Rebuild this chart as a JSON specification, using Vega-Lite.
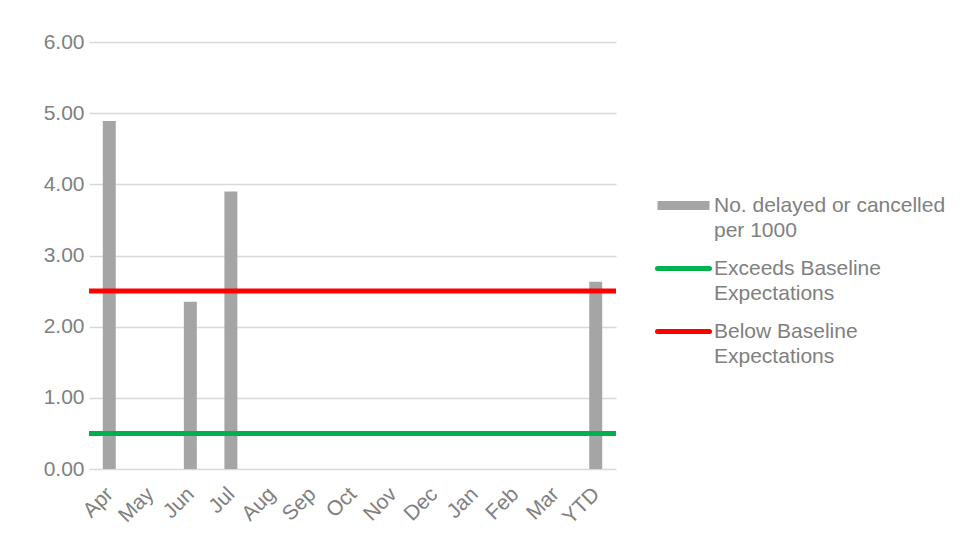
{
  "$schema": "https://vega.github.io/schema/vega-lite/v6.json",
  "width": 527,
  "height": 427,
  "autosize": {"type": "none"},
  "padding": {"left": 89, "top": 42, "right": 348, "bottom": 70},
  "background": "white",
  "config": {"view": {"stroke": null}, "font": "Liberation Sans"},
  "datasets": {
    "monthly": [
      {"month": "Apr", "value": 4.89, "series": "No. delayed or cancelled per 1000"},
      {"month": "May", "value": null, "series": "No. delayed or cancelled per 1000"},
      {"month": "Jun", "value": 2.35, "series": "No. delayed or cancelled per 1000"},
      {"month": "Jul", "value": 3.9, "series": "No. delayed or cancelled per 1000"},
      {"month": "Aug", "value": null, "series": "No. delayed or cancelled per 1000"},
      {"month": "Sep", "value": null, "series": "No. delayed or cancelled per 1000"},
      {"month": "Oct", "value": null, "series": "No. delayed or cancelled per 1000"},
      {"month": "Nov", "value": null, "series": "No. delayed or cancelled per 1000"},
      {"month": "Dec", "value": null, "series": "No. delayed or cancelled per 1000"},
      {"month": "Jan", "value": null, "series": "No. delayed or cancelled per 1000"},
      {"month": "Feb", "value": null, "series": "No. delayed or cancelled per 1000"},
      {"month": "Mar", "value": null, "series": "No. delayed or cancelled per 1000"},
      {"month": "YTD", "value": 2.63, "series": "No. delayed or cancelled per 1000"}
    ],
    "targets": [
      {"series": "Exceeds Baseline Expectations", "value": 0.5},
      {"series": "Below Baseline Expectations", "value": 2.5}
    ]
  },
  "layer": [
    {
      "data": {"name": "monthly"},
      "mark": {"type": "bar"},
      "encoding": {
        "x": {
          "field": "month",
          "type": "nominal",
          "sort": null,
          "scale": {
            "domain": ["Apr", "May", "Jun", "Jul", "Aug", "Sep", "Oct", "Nov", "Dec", "Jan", "Feb", "Mar", "YTD"],
            "paddingInner": 0.68,
            "paddingOuter": 0.34
          },
          "axis": {
            "title": null,
            "labelAngle": -45,
            "domain": false,
            "ticks": false,
            "labelFontSize": 21,
            "labelColor": "#808080",
            "labelPadding": 14,
            "labelOffset": -7
          }
        },
        "y": {
          "field": "value",
          "type": "quantitative",
          "scale": {"domain": [0, 6], "nice": false},
          "axis": {
            "title": null,
            "values": [0, 1, 2, 3, 4, 5, 6],
            "format": ".2f",
            "domain": false,
            "ticks": false,
            "gridColor": "#D9D9D9",
            "gridWidth": 1.3,
            "labelFontSize": 21,
            "labelColor": "#808080",
            "labelPadding": 5
          }
        },
        "color": {
          "field": "series",
          "type": "nominal",
          "scale": {
            "domain": ["No. delayed or cancelled per 1000", "Exceeds Baseline Expectations", "Below Baseline Expectations"],
            "range": ["#A5A5A5", "#00B050", "#FF0000"]
          },
          "legend": {
            "orient": "none",
            "legendX": 568,
            "legendY": 153,
            "title": null,
            "padding": 0,
            "symbolType": "stroke",
            "symbolSize": 2704,
            "symbolOffset": 16,
            "labelOffset": 20,
            "labelFontSize": 21,
            "labelColor": "#808080",
            "labelLimit": 400,
            "rowPadding": 16,
            "labelExpr": "datum.label == 'No. delayed or cancelled per 1000' ? ['No. delayed or cancelled', 'per 1000'] : datum.label == 'Exceeds Baseline Expectations' ? ['Exceeds Baseline', 'Expectations'] : ['Below Baseline', 'Expectations']",
            "encode": {
              "symbols": {
                "update": {
                  "strokeWidth": {"signal": "datum.value == 'No. delayed or cancelled per 1000' ? 9 : 5"},
                  "strokeCap": {"signal": "datum.value == 'No. delayed or cancelled per 1000' ? 'butt' : 'round'"}
                }
              },
              "labels": {
                "update": {
                  "lineHeight": {"value": 25}
                }
              }
            }
          }
        }
      }
    },
    {
      "data": {"name": "targets"},
      "mark": {"type": "rule", "strokeWidth": 5},
      "encoding": {
        "y": {"field": "value", "type": "quantitative"},
        "color": {"field": "series", "type": "nominal"}
      }
    }
  ]
}
